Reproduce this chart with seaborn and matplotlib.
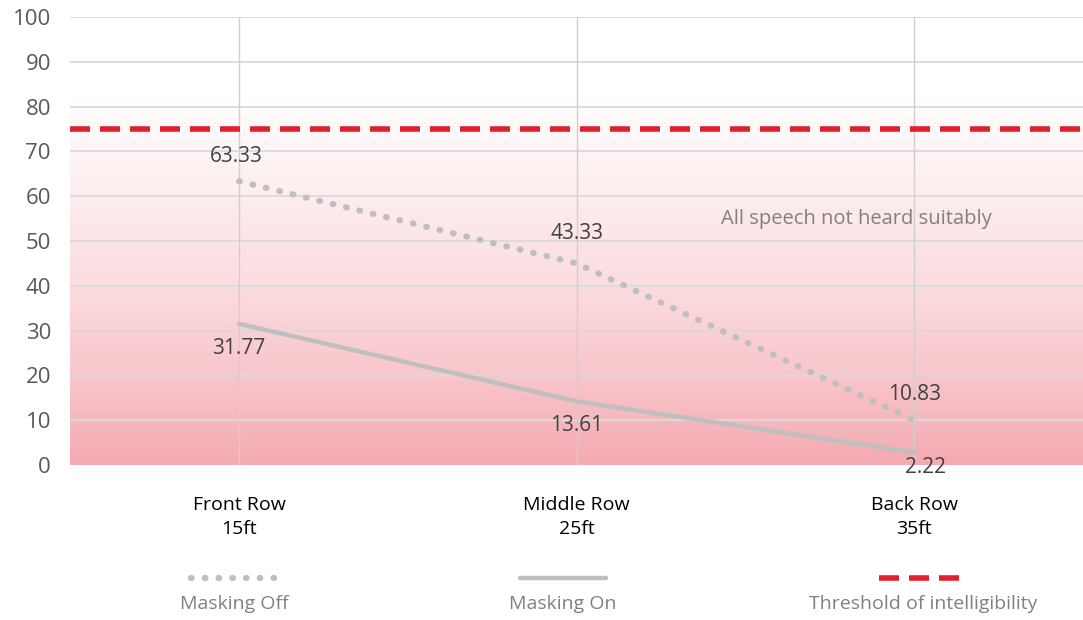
import numpy as np
import pandas as pd
import matplotlib.pyplot as plt
import matplotlib.colors as mcolors
from matplotlib.lines import Line2D
import seaborn as sns

rows = ["Front Row\n15ft", "Middle Row\n25ft", "Back Row\n35ft"]
masking_off = [63.33, 45.0, 10.0]
masking_on = [31.5, 14.2, 2.8]
off_labels = ["63.33", "43.33", "10.83"]
on_labels = ["31.77", "13.61", "2.22"]
threshold = 75

sns.set_style("white")
plt.rcParams["font.family"] = ["Open Sans", "DejaVu Sans"]

df = pd.DataFrame({"pos": [0, 1, 2], "off": masking_off, "on": masking_on})

fig = plt.figure(figsize=(10.83, 6.2), dpi=100)
ax = fig.add_axes([0.065, 0.25, 0.935, 0.7226])

# pink gradient background, fading to white around the threshold
grad_cmap = mcolors.LinearSegmentedColormap.from_list(
    "pinkfade", [(0.0, "#F4AAB2"), (0.2, "#F8C6CB"), (0.4, "#FBDCDF"),
                 (0.6, "#FDEDEE"), (0.78, "#FFFBFB"), (0.82, "#FFFFFF"),
                 (1.0, "#FFFFFF")])
grad = np.linspace(0, 1, 256).reshape(-1, 1)
ax.imshow(grad, extent=[-0.5, 2.5, 0, 100], origin="lower", aspect="auto",
          cmap=grad_cmap, zorder=0)

# grid
for yv in range(10, 101, 10):
    ax.axhline(yv, color="#DADADA", lw=1.3, zorder=1)
for xv in range(3):
    ax.axvline(xv, color="#CFCFCF", lw=1.0, zorder=1)

ax.axhline(threshold, color="#E0202E", lw=4, ls=(0, (3.6, 1.8)), zorder=3)

sns.lineplot(data=df, x="pos", y="off", ax=ax, color="#BFBFBF", lw=4.5,
             linestyle=(0, (0.1, 2.1)), zorder=4)
ax.lines[-1].set_dash_capstyle("round")
sns.lineplot(data=df, x="pos", y="on", ax=ax, color="#BFBFBF", lw=3.2, zorder=4)

# data labels
off_offsets = [(-2, 10), (0, 14), (0, 11)]
for i, (v, lab) in enumerate(zip(masking_off, off_labels)):
    ax.annotate(lab, (i, v), xytext=off_offsets[i], textcoords="offset points",
                ha="center", va="bottom", fontsize=15, color="#404040", zorder=5)
on_offsets = [(0, -10), (0, -10), (8, -3)]
for i, (v, lab) in enumerate(zip(masking_on, on_labels)):
    ax.annotate(lab, (i, v), xytext=on_offsets[i], textcoords="offset points",
                ha="center", va="top", fontsize=15, color="#404040", zorder=5)

ax.text(1.83, 55, "All speech not heard suitably", ha="center", va="center",
        fontsize=14.5, color="#808080", zorder=5)

ax.set_xlim(-0.5, 2.5)
ax.set_ylim(0, 100)
ax.set_yticks(range(0, 101, 10))
ax.set_xticks(range(3))
ax.set_xticklabels(rows, fontsize=14, color="black", linespacing=1.45)
ax.tick_params(axis="x", length=0, pad=22)
ax.tick_params(axis="y", length=0, pad=14, labelsize=16, labelcolor="#595959")
ax.set_xlabel("")
ax.set_ylabel("")
for s in ax.spines.values():
    s.set_visible(False)

# legend drawn below, handle above label
leg_items = [
    ("Masking Off", dict(color="#BFBFBF", lw=4.5, linestyle=(0, (0.1, 2.1)),
                         dash_capstyle="round")),
    ("Masking On", dict(color="#BFBFBF", lw=3.2)),
    ("Threshold of intelligibility", dict(color="#E0202E", lw=4,
                                          linestyle=(0, (3.6, 1.8)))),
]
for xc, (lab, style) in zip([0.216, 0.52, 0.852], leg_items):
    fig.add_artist(Line2D([xc - 0.04, xc + 0.04], [0.068, 0.068],
                          transform=fig.transFigure, **style))
    fig.text(xc, 0.026, lab, ha="center", va="center", fontsize=14,
             color="#808080")

fig.savefig("out.png", dpi=100)
